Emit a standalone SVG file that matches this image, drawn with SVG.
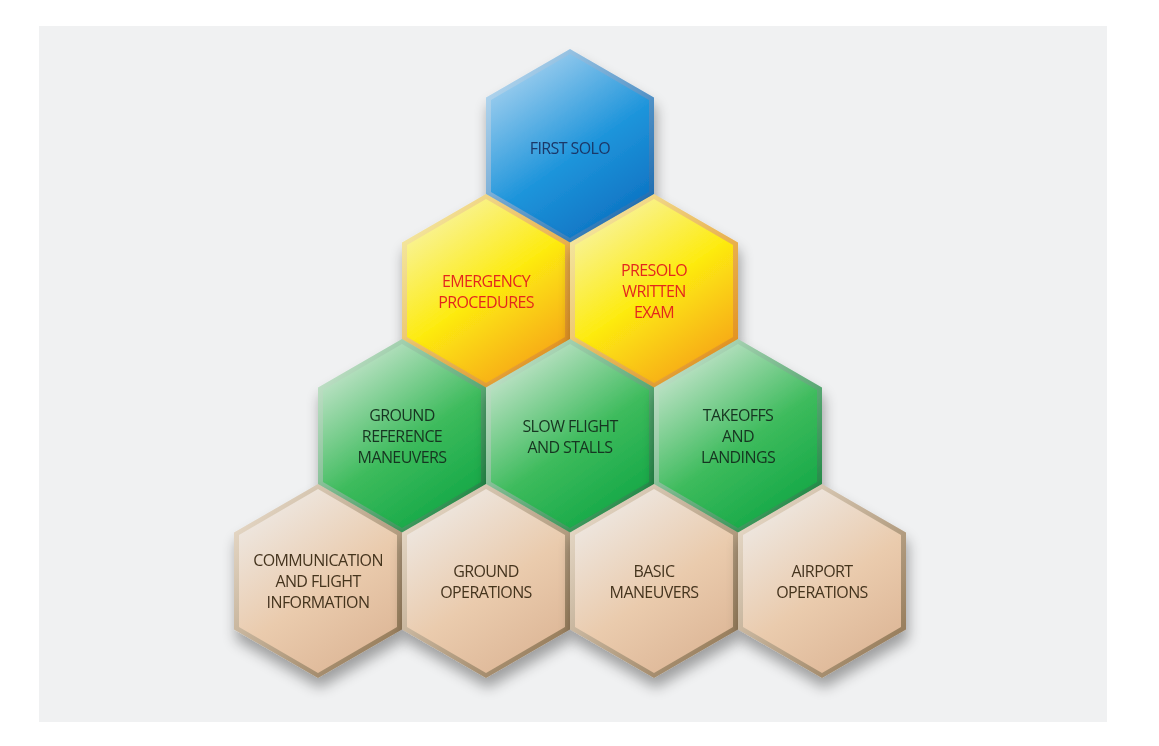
<svg xmlns="http://www.w3.org/2000/svg" xmlns:xlink="http://www.w3.org/1999/xlink" width="1159" height="746" viewBox="0 0 1159 746">
<style>
text{font-family:"Open Sans","Noto Sans",sans-serif;font-size:16px;text-anchor:middle;letter-spacing:-0.6px}
.tb{fill:#1a3768}.tr{fill:#e4281f}.tg{fill:#173520}.tn{fill:#45341f}
</style>
<defs>
<polygon id="ho" points="0,-97 84,-48.5 84,48.5 0,97 -84,48.5 -84,-48.5"/>
<polygon id="hi" points="0,-92 79,-46 79,46 0,92 -79,46 -79,-46"/>
<linearGradient id="gb" x1="0.2" y1="0" x2="0.8" y2="1"><stop offset="0" stop-color="#a9d3f0"/><stop offset="0.55" stop-color="#1f95db"/><stop offset="1" stop-color="#0b6fc0"/></linearGradient>
<linearGradient id="gbe" x1="0" y1="0" x2="1" y2="1"><stop offset="0" stop-color="#c6e4f6"/><stop offset="1" stop-color="#0a5ea8"/></linearGradient>
<linearGradient id="gy" x1="0.2" y1="0" x2="0.8" y2="1"><stop offset="0" stop-color="#f8f4a8"/><stop offset="0.5" stop-color="#fdeb10"/><stop offset="1" stop-color="#f6a019"/></linearGradient>
<linearGradient id="gye" x1="0" y1="0" x2="1" y2="1"><stop offset="0" stop-color="#f6f2b0"/><stop offset="1" stop-color="#e0860f"/></linearGradient>
<linearGradient id="gg" x1="0.2" y1="0" x2="0.8" y2="1"><stop offset="0" stop-color="#cde7d3"/><stop offset="0.55" stop-color="#3dbb5c"/><stop offset="1" stop-color="#0fa544"/></linearGradient>
<linearGradient id="gge" x1="0" y1="0" x2="1" y2="1"><stop offset="0" stop-color="#d6ecd8"/><stop offset="1" stop-color="#0b7d34"/></linearGradient>
<linearGradient id="gt" x1="0.2" y1="0" x2="0.8" y2="1"><stop offset="0" stop-color="#eeeae6"/><stop offset="0.55" stop-color="#eacbad"/><stop offset="1" stop-color="#dcb595"/></linearGradient>
<linearGradient id="gte" x1="0" y1="0" x2="1" y2="1"><stop offset="0" stop-color="#efe3d3"/><stop offset="1" stop-color="#8c704c"/></linearGradient>
<filter id="sh" x="-30%" y="-30%" width="160%" height="170%"><feGaussianBlur in="SourceAlpha" stdDeviation="7"/><feOffset dx="2" dy="10"/><feComponentTransfer><feFuncA type="linear" slope="0.35"/></feComponentTransfer><feMerge><feMergeNode/><feMergeNode in="SourceGraphic"/></feMerge></filter>
</defs>
<rect x="39" y="26" width="1068" height="696" fill="#f0f1f2"/>
<g id="n-first-solo" transform="translate(570,146)" filter="url(#sh)"><use xlink:href="#ho" fill="url(#gbe)"/><use xlink:href="#hi" fill="url(#gb)"/><text class="tb" y="8">FIRST SOLO</text></g>
<g id="n-emergency" transform="translate(486,291)" filter="url(#sh)"><use xlink:href="#ho" fill="url(#gye)"/><use xlink:href="#hi" fill="url(#gy)"/><text class="tr" y="-4">EMERGENCY</text><text class="tr" y="17">PROCEDURES</text></g>
<g id="n-presolo" transform="translate(654,291)" filter="url(#sh)"><use xlink:href="#ho" fill="url(#gye)"/><use xlink:href="#hi" fill="url(#gy)"/><text class="tr" y="-15">PRESOLO</text><text class="tr" y="6">WRITTEN</text><text class="tr" y="27">EXAM</text></g>
<g id="n-ground-ref" transform="translate(402,436)" filter="url(#sh)"><use xlink:href="#ho" fill="url(#gge)"/><use xlink:href="#hi" fill="url(#gg)"/><text class="tg" y="-15">GROUND</text><text class="tg" y="6">REFERENCE</text><text class="tg" y="27">MANEUVERS</text></g>
<g id="n-slow-flight" transform="translate(570,436)" filter="url(#sh)"><use xlink:href="#ho" fill="url(#gge)"/><use xlink:href="#hi" fill="url(#gg)"/><text class="tg" y="-4">SLOW FLIGHT</text><text class="tg" y="17">AND STALLS</text></g>
<g id="n-takeoffs" transform="translate(738,436)" filter="url(#sh)"><use xlink:href="#ho" fill="url(#gge)"/><use xlink:href="#hi" fill="url(#gg)"/><text class="tg" y="-15">TAKEOFFS</text><text class="tg" y="6">AND</text><text class="tg" y="27">LANDINGS</text></g>
<g id="n-communication" transform="translate(318,581)" filter="url(#sh)"><use xlink:href="#ho" fill="url(#gte)"/><use xlink:href="#hi" fill="url(#gt)"/><text class="tn" y="-15">COMMUNICATION</text><text class="tn" y="6">AND FLIGHT</text><text class="tn" y="27">INFORMATION</text></g>
<g id="n-ground-ops" transform="translate(486,581)" filter="url(#sh)"><use xlink:href="#ho" fill="url(#gte)"/><use xlink:href="#hi" fill="url(#gt)"/><text class="tn" y="-4">GROUND</text><text class="tn" y="17">OPERATIONS</text></g>
<g id="n-basic" transform="translate(654,581)" filter="url(#sh)"><use xlink:href="#ho" fill="url(#gte)"/><use xlink:href="#hi" fill="url(#gt)"/><text class="tn" y="-4">BASIC</text><text class="tn" y="17">MANEUVERS</text></g>
<g id="n-airport" transform="translate(822,581)" filter="url(#sh)"><use xlink:href="#ho" fill="url(#gte)"/><use xlink:href="#hi" fill="url(#gt)"/><text class="tn" y="-4">AIRPORT</text><text class="tn" y="17">OPERATIONS</text></g>
<g id="connectors"/>
</svg>
